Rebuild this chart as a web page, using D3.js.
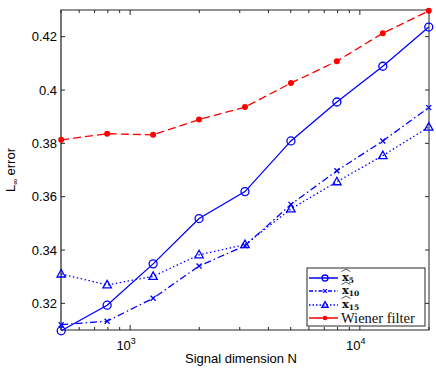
<!DOCTYPE html>
<html>
<head>
<meta charset="utf-8">
<script src="https://cdn.jsdelivr.net/npm/d3@7"></script>
<style>
  body { margin: 0; background: #fff; }
  svg { display: block; }
</style>
</head>
<body>
<svg width="436" height="371" font-family="'Liberation Sans', Arial, sans-serif"></svg>
<script>
// signal dimensions (about 10^(2.7 + 0.2k))
var sizeN = [501, 794, 1259, 1995, 3162, 5012, 7943, 12589, 19953];

// L-infinity error of each estimator
var errX5     = [0.3097, 0.3193, 0.3348, 0.3518, 0.3619, 0.3809, 0.3955, 0.4089, 0.4236];
var errX10    = [0.3120, 0.3133, 0.3219, 0.3340, 0.3416, 0.3571, 0.3697, 0.3809, 0.3934];
var errX15    = [0.3310, 0.3269, 0.3301, 0.3382, 0.3420, 0.3554, 0.3656, 0.3754, 0.3861];
var errWiener = [0.3813, 0.3836, 0.3832, 0.3889, 0.3936, 0.4026, 0.4108, 0.4213, 0.4297];

var yTicks = [0.32, 0.34, 0.36, 0.38, 0.4, 0.42];
var xTicks = [1000, 10000];

var margin = {left: 61, top: 10, right: 7, bottom: 41};
var W = 436, H = 371;
var pw = W - margin.left - margin.right;
var ph = H - margin.top - margin.bottom;

var svg = d3.select("svg");
var g = svg.append("g").attr("transform", "translate(" + margin.left + "," + margin.top + ")");

var x = d3.scaleLog().domain([500, 20000]).range([0, pw]);
var y = d3.scaleLinear().domain([0.31, 0.43]).range([ph, 0]);

// minor tick positions from the log scale
var minor = x.ticks().filter(function(d) { return xTicks.indexOf(d) < 0; });

var axisCol = "#262626";

// frame
g.append("rect").attr("width", pw).attr("height", ph)
  .attr("fill", "none").attr("stroke", axisCol).attr("stroke-width", 1);
g.append("line").attr("x1", 0).attr("x2", 0).attr("y1", 0).attr("y2", ph)
  .attr("stroke", "#777").attr("stroke-width", 2);

// y ticks, left and right, inward
yTicks.forEach(function(v) {
  g.append("line").attr("x1", 0).attr("x2", 4).attr("y1", y(v)).attr("y2", y(v)).attr("stroke", axisCol);
  g.append("line").attr("x1", pw).attr("x2", pw - 4).attr("y1", y(v)).attr("y2", y(v)).attr("stroke", axisCol);
  g.append("text").attr("x", -4).attr("y", y(v)).attr("dy", "0.35em")
    .attr("text-anchor", "end").attr("font-size", 13).text(d3.format("")(v));
});

// x ticks, top and bottom
xTicks.forEach(function(v) {
  g.append("line").attr("x1", x(v)).attr("x2", x(v)).attr("y1", ph).attr("y2", ph - 5).attr("stroke", axisCol);
  g.append("line").attr("x1", x(v)).attr("x2", x(v)).attr("y1", 0).attr("y2", 5).attr("stroke", axisCol);
  var t = g.append("text").attr("x", x(v) - 4).attr("y", ph + 20)
    .attr("text-anchor", "middle").attr("font-size", 13);
  t.append("tspan").text("10");
  t.append("tspan").attr("dy", -6).attr("font-size", 9).text(Math.round(Math.log10(v)));
});
minor.forEach(function(v) {
  g.append("line").attr("x1", x(v)).attr("x2", x(v)).attr("y1", ph).attr("y2", ph - 3).attr("stroke", axisCol);
  g.append("line").attr("x1", x(v)).attr("x2", x(v)).attr("y1", 0).attr("y2", 3).attr("stroke", axisCol);
});

// axis labels
svg.append("text").attr("x", margin.left + pw / 2 - 4).attr("y", 363)
  .attr("text-anchor", "middle").attr("font-size", 13).text("Signal dimension N");
var yl = svg.append("text").attr("transform", "translate(15," + (margin.top + ph / 2) + ") rotate(-90)")
  .attr("text-anchor", "middle").attr("font-size", 13);
yl.append("tspan").text("L");
yl.append("tspan").attr("dy", 3).attr("font-size", 8).text("\u221e");
yl.append("tspan").attr("dy", -3).text(" error");

var series = [
  {name: "5",  vals: errX5,     color: "#0000ff", dash: null,          legDash: null,        marker: "circle"},
  {name: "10", vals: errX10,    color: "#0000ff", dash: "7,3,1.5,3",   legDash: "4,2,1.5,2", marker: "x"},
  {name: "15", vals: errX15,    color: "#0000ff", dash: "1.5,2.5",     legDash: "1.5,2",     marker: "triangle"},
  {name: "Wiener filter", vals: errWiener, color: "#ff0000", dash: "8,4", legDash: null,   marker: "dot"}
];

function drawMarker(sel, type, color, k) {
  if (type === "circle") {
    sel.append("circle").attr("r", 4 * k).attr("fill", "none").attr("stroke", color).attr("stroke-width", 1.3);
  } else if (type === "x") {
    var a = 2.5 * k;
    sel.append("path").attr("d", "M" + -a + "," + -a + "L" + a + "," + a + "M" + -a + "," + a + "L" + a + "," + -a)
      .attr("stroke", color).attr("stroke-width", 1.3);
  } else if (type === "triangle") {
    sel.append("path").attr("d", "M0," + (-4.5 * k) + "L" + (4.2 * k) + "," + (3 * k) + "L" + (-4.2 * k) + "," + (3 * k) + "Z")
      .attr("fill", "none").attr("stroke", color).attr("stroke-width", 1.3);
  } else {
    sel.append("circle").attr("r", 3 * k).attr("fill", color);
  }
}

var line = d3.line().x(function(d) { return x(d[0]); }).y(function(d) { return y(d[1]); });

var plotG = g.append("g");
series.forEach(function(s) {
  var pts = sizeN.map(function(n, i) { return [n, s.vals[i]]; });
  plotG.append("path").datum(pts).attr("d", line)
    .attr("fill", "none").attr("stroke", s.color).attr("stroke-width", 1.3)
    .attr("stroke-dasharray", s.dash);
  pts.forEach(function(p) {
    var m = plotG.append("g").attr("transform", "translate(" + x(p[0]) + "," + y(p[1]) + ")");
    drawMarker(m, s.marker, s.color, 1);
  });
});

// legend
var lg = svg.append("g").attr("transform", "translate(307,268)");
lg.append("rect").attr("width", 118).attr("height", 58)
  .attr("fill", "#fff").attr("stroke", axisCol).attr("stroke-width", 1);
var rowY = [10, 23, 37, 50];
series.forEach(function(s, i) {
  var r = lg.append("g").attr("transform", "translate(0," + rowY[i] + ")");
  r.append("line").attr("x1", 2).attr("x2", 31).attr("y1", 0).attr("y2", 0)
    .attr("stroke", s.color).attr("stroke-width", 1.5).attr("stroke-dasharray", s.legDash);
  var m = r.append("g").attr("transform", "translate(18,0)");
  drawMarker(m, s.marker, s.color, 0.75);
  if (s.marker === "dot") {
    r.append("text").attr("x", 34).attr("y", 5).attr("font-size", 14.5)
      .attr("font-family", "'Liberation Serif', 'DejaVu Serif', serif").attr("fill", "#111").text(s.name);
  } else {
    var t = r.append("text").attr("x", 35).attr("y", 3).attr("fill", "#111")
      .attr("font-family", "'DejaVu Serif', serif").attr("font-weight", "bold").attr("font-size", 11.5);
    t.append("tspan").text("x");
    t.append("tspan").attr("dy", 2).attr("font-size", 7.5).text(s.name);
    r.append("path").attr("d", "M34.5,-6.5L39,-9L43.5,-6.5").attr("fill", "none")
      .attr("stroke", "#111").attr("stroke-width", 0.7);
  }
});
</script>
</body>
</html>
